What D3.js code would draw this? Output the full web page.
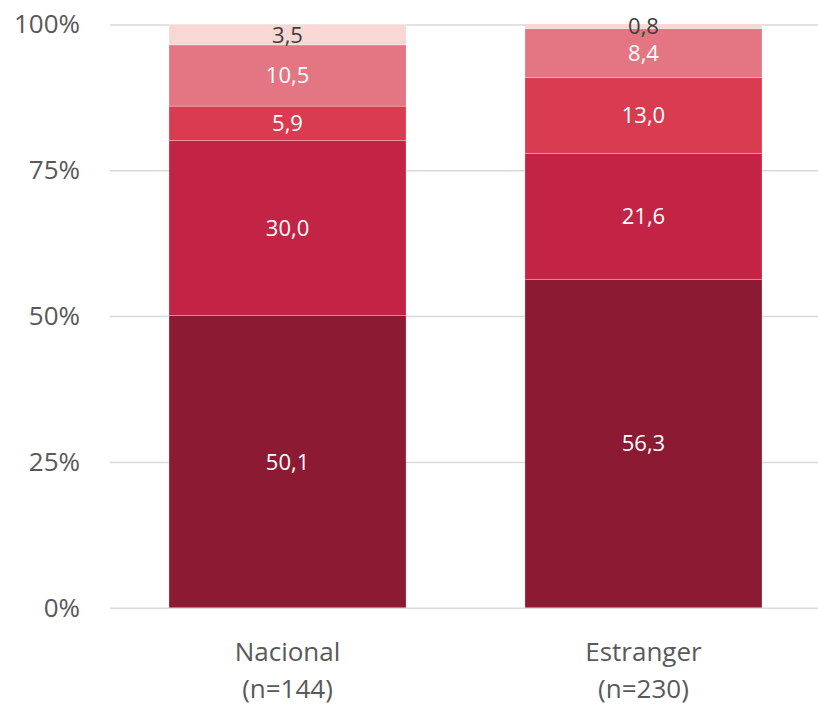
<!DOCTYPE html>
<html><head><meta charset="utf-8">
<script src="https://cdn.jsdelivr.net/npm/d3@7"></script>
<style>body{margin:0;background:#fff}svg{display:block}</style>
</head><body><svg id="c" width="818" height="705"></svg>
<script>
const categories = ["Nacional\n(n=144)", "Estranger\n(n=230)"];
const seriesNames = ["s1", "s2", "s3", "s4", "s5"];
const s1 = [50.1, 56.3];
const s2 = [30.0, 21.6];
const s3 = [5.9, 13.0];
const s4 = [10.5, 8.4];
const s5 = [3.5, 0.8];
const yTicks = [0, 25, 50, 75, 100];
const colors = ["#8B1A32", "#C32344", "#D93C50", "#E47582", "#F8D7D4"];
const labelColors = ["#fff", "#fff", "#fff", "#fff", "#404040"];

const rows = categories.map((c, i) => ({cat: c, s1: s1[i], s2: s2[i], s3: s3[i], s4: s4[i], s5: s5[i]}));
const stack = d3.stack().keys(seriesNames)(rows);

const svg = d3.select("#c");
const W = 818, H = 705;
const left = 110, zeroY = 607.7, topY = 24.5;
const x = d3.scaleBand().domain(categories).range([left, 821]).paddingInner(0.334).paddingOuter(0.1657);
const y = d3.scaleLinear().domain([0, 100]).range([zeroY, topY]);
const font = "'Open Sans', Lato, sans-serif";

const yAxis = svg.append("g").attr("transform", `translate(${left},0)`)
  .call(d3.axisLeft(y).tickValues(yTicks).tickSize(-(W - left)).tickFormat(d => d + "%").tickPadding(30));
yAxis.select(".domain").remove();
yAxis.selectAll(".tick line").attr("stroke", "#d9d9d9").attr("stroke-width", 1.5);
yAxis.selectAll(".tick text").attr("fill", "#595959").style("font-family", font).style("font-size", "26px");

const g = svg.append("g");
stack.forEach((layer, li) => {
  g.selectAll(null).data(layer).enter().append("rect")
    .attr("x", d => x(d.data.cat))
    .attr("width", x.bandwidth())
    .attr("y", d => y(d[1]))
    .attr("height", d => y(d[0]) - y(d[1]))
    .attr("fill", colors[li])
    .attr("stroke", "rgba(255,255,255,0.25)").attr("stroke-width", 1);
  g.selectAll(null).data(layer).enter().append("text")
    .attr("x", d => x(d.data.cat) + x.bandwidth() / 2)
    .attr("y", d => y((d[0] + d[1]) / 2))
    .attr("dy", "0.36em")
    .attr("text-anchor", "middle")
    .attr("fill", labelColors[li])
    .style("font-family", font).style("font-size", "22px")
    .text(d => d3.format(".1f")(d[1] - d[0]).replace(".", ","));
});

const xAxis = svg.append("g").attr("transform", `translate(0,${zeroY})`);
categories.forEach(c => {
  const t = xAxis.append("text").attr("x", x(c) + x.bandwidth() / 2).attr("text-anchor", "middle")
    .attr("fill", "#595959").style("font-family", font).style("font-size", "26px");
  c.split("\n").forEach((line, i) => t.append("tspan").attr("x", x(c) + x.bandwidth() / 2).attr("y", 53 + i * 37).text(line));
});
</script></body></html>
